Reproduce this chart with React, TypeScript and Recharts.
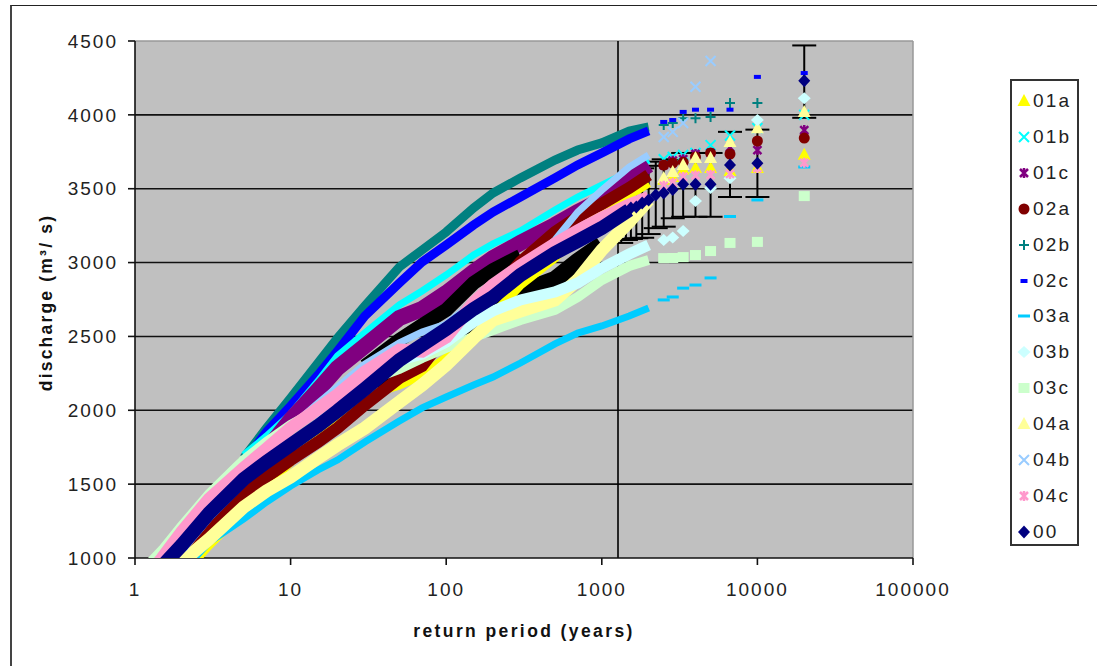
import React from "react";
import {
  ScatterChart, Scatter, XAxis, YAxis, CartesianGrid, ReferenceLine, ErrorBar, Label,
} from "recharts";

// Return periods at which the dense bands were read
const bandPeriods = [1.2, 1.3, 1.5, 2, 3, 5, 7, 10, 15, 20, 30, 50, 70, 100, 150, 200, 300, 500, 700, 1000, 1500, 2000];
// Return periods of the separate points at the upper end
const tailPeriods = [20000, 10000, 6667, 5000, 4000, 3333, 2857, 2500];
const tailPeriods00 = [20000, 10000, 6667, 5000, 4000, 3333, 2857, 2500, 2222, 2000, 1818, 1667, 1538, 1429, 1333];

const n = null;
const band01a = [n, n, n, 885, 1088, 1325, 1481, 1650, 1846, 1948, 2097, 2171, 2239, 2354, 2476, 2645, 2848, 3031, 3207, 3342, 3458, 3539];
const band01b = [n, n, n, n, n, 1697, 1826, 1975, 2198, 2368, 2523, 2713, 2808, 2916, 3051, 3126, 3214, 3356, 3444, 3525, 3613, 3694];
const band01c = [n, n, n, n, 1359, 1630, 1731, 1934, 2137, 2286, 2435, 2625, 2686, 2794, 2936, 3031, 3133, 3254, 3342, 3424, 3573, 3661];
const band02a = [n, n, 900, 1041, 1223, 1427, 1548, 1663, 1785, 1880, 2036, 2219, 2300, 2510, 2679, 2794, 3004, 3207, 3309, 3397, 3505, 3593];
const band02b = [n, n, n, n, n, 1677, 1880, 2083, 2320, 2489, 2706, 2970, 3085, 3207, 3370, 3471, 3573, 3694, 3762, 3810, 3891, 3918];
const band02c = [n, n, n, n, n, 1650, 1853, 2029, 2239, 2401, 2638, 2862, 3004, 3119, 3254, 3342, 3444, 3573, 3661, 3742, 3837, 3891];
const band03a = [n, n, n, 905, 1108, 1264, 1379, 1487, 1596, 1663, 1785, 1927, 2016, 2090, 2171, 2225, 2320, 2449, 2523, 2571, 2638, 2693];
const band03b = [n, n, n, 1068, 1291, 1528, 1650, 1765, 1905, 2036, 2171, 2340, 2381, 2462, 2598, 2672, 2747, 2801, 2862, 2963, 3058, 3119];
const band03c = [932, 986, 1054, 1217, 1433, 1663, 1785, 1900, 2002, 2083, 2192, 2280, 2354, 2422, 2496, 2544, 2611, 2679, 2767, 2882, 2977, 3017];
const band04a = [n, n, n, 973, 1129, 1345, 1454, 1548, 1677, 1765, 1880, 2056, 2171, 2307, 2489, 2611, 2672, 2747, 2882, 3085, 3275, 3424];
const band04b = [n, n, n, n, n, 1630, 1751, 1887, 2049, 2158, 2313, 2456, 2530, 2584, 2733, 2814, 2936, 3153, 3342, 3491, 3647, 3728];
const band04c = [n, 919, 1000, 1176, 1399, 1609, 1738, 1880, 2009, 2104, 2259, 2408, 2401, 2496, 2726, 2848, 2977, 3126, 3214, 3302, 3390, 3440];
const band00 = [n, n, 946, 1088, 1305, 1535, 1650, 1765, 1894, 1995, 2144, 2340, 2442, 2550, 2686, 2767, 2916, 3065, 3146, 3234, 3356, n];
// Upper and lower limits of series 00, where the error bars merge into bands
const band00Upper = [n, n, n, n, n, n, n, n, n, n, 2300, 2476, 2577, 2679, 2862, 2950, 3045, n, n, n, n, n];
const band00Lower = [n, n, n, n, 1250, 1481, 1589, 1711, 1839, 1941, 2090, 2286, 2374, 2476, 2598, 2638, 2794, 2882, 3004, 3119, n, n];

const tail01a = [3730, 3640, 3620, 3640, 3640, 3630, 3580, 3560];
const tail01b = [4000, 3910, 3860, 3795, 3742, 3728, 3715, 3700];
const tail01c = [3897, 3762, 3780, 3742, 3735, 3700, 3690, 3660];
const tail02a = [3843, 3823, 3735, 3742, 3715, 3680, 3674, 3660];
const tail02b = [n, 4080, 4080, 3986, 3977, 3977, 3945, 3931];
const tail02c = [4283, 4257, 4035, 4035, 4035, 4020, 3965, 3952];
const tail03a = [3647, 3424, 3312, 2896, 2848, 2827, 2767, 2747];
const tail03b = [4113, 3965, 3570, 3505, 3417, 3214, 3170, 3153];
const tail03c = [3450, 3140, 3133, 3078, 3051, 3037, 3031, 3030];
const tail04a = [4020, 3910, 3817, 3708, 3708, 3660, 3613, 3573];
const tail04b = [n, n, n, 4365, 4190, 3945, 3885, 3850];
const tail04c = [3675, 3640, 3600, 3593, 3590, 3580, 3540, 3520];
const tail00 = [4231, 3672, 3660, 3531, 3531, 3531, 3495, 3471, 3458, 3424, 3403, 3376, 3370, 3342, 3322];
const tail00Down = [251, 228, 216, 221, 221, 221, 195, 228, 225, 231, 235, 211, 210, 189, 189];
const tail00Up = [239, 228, 225, 211, 211, 211, 200, 228, 225, 231, 235, 211, 210, 189, 189];

const xTicks = [1, 10, 100, 1000, 10000, 100000];
const yTicks = [1000, 1500, 2000, 2500, 3000, 3500, 4000, 4500];
const gridValues = [1500, 2000, 2500, 3000, 3500, 4000];
const markerPeriod = 1271;

const legendOrder = ["01a", "01b", "01c", "02a", "02b", "02c", "03a", "03b", "03c", "04a", "04b", "04c", "00"];
const drawOrder = ["02b", "02c", "01b", "01c", "01a", "02a", "03a", "03c", "04a", "03b", "04b", "04c", "00"];

const seriesMeta: Record<string, any> = {
  "01a": { color: "#FFFF00", mark: "triangle", w: 9, band: band01a, tail: tail01a },
  "01b": { color: "#00FFFF", mark: "x", w: 7, band: band01b, tail: tail01b },
  "01c": { color: "#800080", mark: "star", w: 16, band: band01c, tail: tail01c },
  "02a": { color: "#800000", mark: "circle", w: 12, band: band02a, tail: tail02a },
  "02b": { color: "#008080", mark: "plus", w: 9, band: band02b, tail: tail02b },
  "02c": { color: "#0000FF", mark: "block", w: 9, band: band02c, tail: tail02c },
  "03a": { color: "#00CCFF", mark: "dash", w: 7, band: band03a, tail: tail03a },
  "03b": { color: "#CCFFFF", mark: "diamondL", w: 11, band: band03b, tail: tail03b },
  "03c": { color: "#CCFFCC", mark: "square", w: 10, band: band03c, tail: tail03c },
  "04a": { color: "#FFFF99", mark: "triangle", w: 13, band: band04a, tail: tail04a },
  "04b": { color: "#99CCFF", mark: "x", w: 7, band: band04b, tail: tail04b },
  "04c": { color: "#FF99CC", mark: "star", w: 13, band: band04c, tail: tail04c },
  "00": { color: "#000080", mark: "diamond", w: 14, band: band00, tail: tail00 },
};

const font = "'Liberation Sans', Arial, sans-serif";

const zip = (ts: number[], qs: (number | null)[]) =>
  ts.flatMap((t, i) => (qs[i] == null ? [] : [{ t, q: qs[i] }]));

function Mark({ kind, color, cx, cy }: { kind: string; color: string; cx: number; cy: number }) {
  switch (kind) {
    case "triangle":
      return <path d={`M${cx} ${cy - 7}L${cx + 6.5} ${cy + 5}L${cx - 6.5} ${cy + 5}Z`} fill={color} />;
    case "x":
      return <path d={`M${cx - 5} ${cy - 5}L${cx + 5} ${cy + 5}M${cx + 5} ${cy - 5}L${cx - 5} ${cy + 5}`} stroke={color} strokeWidth={2} />;
    case "star":
      return <path d={`M${cx - 4} ${cy - 4}L${cx + 4} ${cy + 4}M${cx + 4} ${cy - 4}L${cx - 4} ${cy + 4}M${cx} ${cy - 5}L${cx} ${cy + 5}`} stroke={color} strokeWidth={2.5} />;
    case "circle":
      return <circle cx={cx} cy={cy} r={5.5} fill={color} />;
    case "plus":
      return <path d={`M${cx - 5} ${cy}L${cx + 5} ${cy}M${cx} ${cy - 5}L${cx} ${cy + 5}`} stroke={color} strokeWidth={2} />;
    case "block":
      return <rect x={cx - 3.5} y={cy - 2} width={7} height={4} fill={color} />;
    case "dash":
      return <rect x={cx - 6} y={cy - 1.5} width={12} height={3} fill={color} />;
    case "diamondL":
      return <path d={`M${cx} ${cy - 6}L${cx + 6.5} ${cy}L${cx} ${cy + 6}L${cx - 6.5} ${cy}Z`} fill={color} />;
    case "square":
      return <rect x={cx - 5.5} y={cy - 5} width={11} height={10} fill={color} />;
    case "diamond":
      return <path d={`M${cx} ${cy - 6.5}L${cx + 6} ${cy}L${cx} ${cy + 6.5}L${cx - 6} ${cy}Z`} fill={color} />;
    default:
      return null;
  }
}

const noShape = () => <g />;

export default function App() {
  const tail00Data = tailPeriods00.map((t, i) => ({ t, q: tail00[i], err: [tail00Down[i], tail00Up[i]] }));
  return (
    <div style={{ position: "absolute", left: 0, top: 0, width: 1097, height: 666, overflow: "hidden", background: "#fff", fontFamily: font }}>
      <div style={{ position: "absolute", left: 10, top: 5, width: 1087, height: 661, borderTop: "1.5px solid #222", borderLeft: "2px solid #444", boxSizing: "border-box" }} />
      <ScatterChart width={1097} height={666} margin={{ top: 41, right: 184, bottom: 0, left: 0 }} style={{ position: "absolute", left: 0, top: 0 }}>
        <CartesianGrid fill="#C0C0C0" stroke="#111" strokeWidth={1.6} vertical={false} horizontalValues={gridValues} />
        <XAxis
          type="number" dataKey="t" scale="log" domain={[1, 100000]} ticks={xTicks} allowDataOverflow
          height={108} tickSize={7} tickMargin={18} interval={0} stroke="#111" strokeWidth={1.6}
          tick={{ fontFamily: font, fontSize: 19, fill: "#222", letterSpacing: 2 }}
        >
          <Label value="return period (years)" position="insideBottom" offset={29} style={{ fontFamily: font, fontSize: 17.5, fontWeight: 700, fill: "#111", letterSpacing: 2.4 }} />
        </XAxis>
        <YAxis
          type="number" dataKey="q" domain={[1000, 4500]} ticks={yTicks} allowDataOverflow
          width={135} tickSize={7} tickMargin={10} interval={0} stroke="#111" strokeWidth={1.6}
          tick={{ fontFamily: font, fontSize: 19, fill: "#222", letterSpacing: 2 }}
        >
          <Label value="discharge (m³/ s)" angle={-90} position="insideLeft" offset={46} dy={3} style={{ fontFamily: font, fontSize: 17.5, fontWeight: 700, fill: "#111", letterSpacing: 2.2, textAnchor: "middle" }} />
        </YAxis>
        <ReferenceLine y={4500} stroke="#999" strokeWidth={1.5} />
        <ReferenceLine x={100000} stroke="#999" strokeWidth={1.5} />

        {["02b", "02c", "01b", "01c"].map((name) => (
          <Scatter key={name} name={name} data={zip(bandPeriods, seriesMeta[name].band)} shape={noShape} isAnimationActive={false}
            line={{ stroke: seriesMeta[name].color, strokeWidth: seriesMeta[name].w }} />
        ))}
        <Scatter data={zip(bandPeriods, band00Upper)} shape={noShape} isAnimationActive={false} line={{ stroke: "#000", strokeWidth: 14 }} />
        <Scatter data={zip(bandPeriods, band00Lower)} shape={noShape} isAnimationActive={false} line={{ stroke: "#000", strokeWidth: 18 }} />
        {["01a", "02a", "03a", "03c", "04a", "03b", "04b", "04c", "00"].map((name) => (
          <Scatter key={name} name={name} data={zip(bandPeriods, seriesMeta[name].band)} shape={noShape} isAnimationActive={false}
            line={{ stroke: seriesMeta[name].color, strokeWidth: seriesMeta[name].w }} />
        ))}

        {drawOrder.filter((name) => name !== "00").map((name) => (
          <Scatter key={name + "-tail"} name={name} data={zip(tailPeriods, seriesMeta[name].tail)} isAnimationActive={false}
            shape={(p: any) => <Mark kind={seriesMeta[name].mark} color={seriesMeta[name].color} cx={p.cx} cy={p.cy} />} />
        ))}
        <Scatter name="00" data={tail00Data} isAnimationActive={false}
          shape={(p: any) => <Mark kind="diamond" color="#000080" cx={p.cx} cy={p.cy} />}>
          <ErrorBar dataKey="err" direction="y" width={12} stroke="#000" strokeWidth={2} />
        </Scatter>

        <ReferenceLine x={markerPeriod} stroke="#000" strokeWidth={1.6} />
      </ScatterChart>

      <div style={{ position: "absolute", left: 1010, top: 79, width: 69, height: 467, border: "2px solid #333", boxSizing: "border-box", background: "#fff" }}>
        {legendOrder.map((name, i) => (
          <div key={name} style={{ position: "absolute", left: 0, top: 3 + i * 35.9, height: 34, width: 66, display: "flex", alignItems: "center" }}>
            <svg width={21} height={20} style={{ flex: "none" }}>
              <Mark kind={seriesMeta[name].mark} color={seriesMeta[name].color} cx={12} cy={10} />
            </svg>
            <span style={{ fontSize: 19, letterSpacing: 2.2, color: "#222", lineHeight: "20px" }}>{name}</span>
          </div>
        ))}
      </div>
    </div>
  );
}
